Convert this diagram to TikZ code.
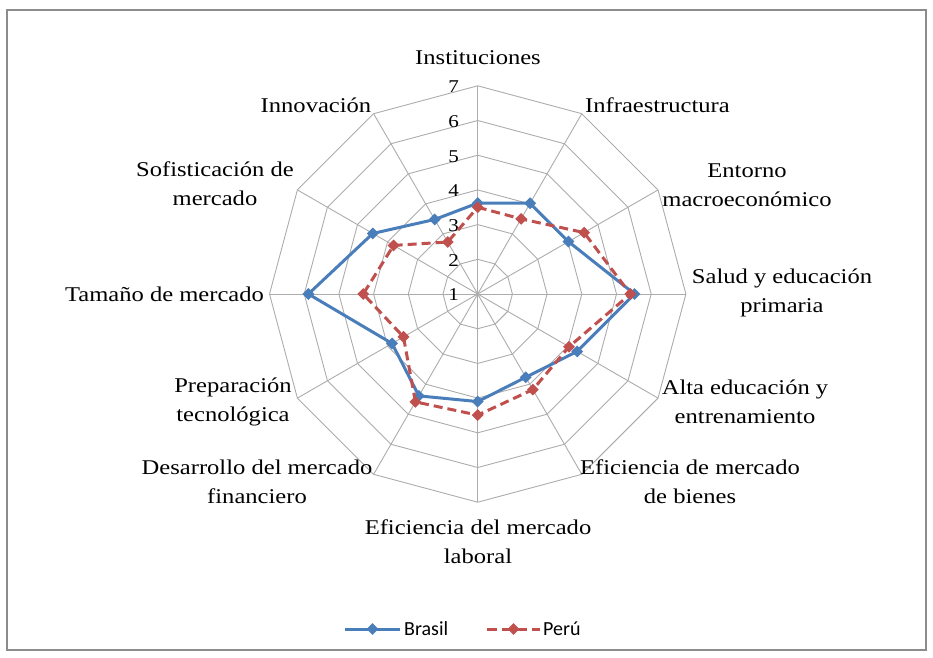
\documentclass[tikz,border=0pt]{standalone}
\usepackage{fontspec}
\setmainfont{Liberation Serif}[FakeStretch=1.17]
\newfontfamily\legfont{Carlito}
\usetikzlibrary{shapes.geometric}
\definecolor{brablue}{RGB}{74,126,187}
\definecolor{perured}{RGB}{192,80,77}
\definecolor{gridgray}{RGB}{172,172,172}
\definecolor{framegray}{RGB}{140,140,140}
\begin{document}
\begin{tikzpicture}[x=1pt,y=-1pt,
  lbl/.style={font=\fontsize{21}{29}\selectfont, align=center, inner sep=0pt},
  num/.style={font=\fontsize{18}{20}\selectfont, anchor=east, inner sep=0pt},
  gridline/.style={draw=gridgray, line width=0.9pt},
  brasil/.style={draw=brablue, line width=3pt, line join=round},
  peru/.style={draw=perured, line width=3pt, dash pattern=on 9pt off 5pt, line join=round},
  bmark/.style={diamond, fill=brablue, inner sep=0pt, minimum size=12pt},
  pmark/.style={diamond, fill=perured, inner sep=0pt, minimum size=12pt},
  legtext/.style={font=\legfont\fontsize{20}{22}\selectfont, anchor=west, inner sep=0pt}]
\useasboundingbox (0,0) rectangle (933,657);
\draw[draw=framegray, line width=1.2pt] (7,10) rectangle (926,650);
\begin{scope}[shift={(477.7,294)}]
  % rings
  \foreach \v [evaluate=\v as \r using (\v-1)*34.7] in {2,...,7}{
    \draw[gridline] (-90:\r) \foreach \k in {1,...,11}{ -- ({30*\k-90}:\r)} -- cycle;
  }
  % spokes
  \foreach \k in {0,...,11}
    \draw[gridline] (0,0) -- ({30*\k-90}:208.2);
  % scale numbers
  \foreach \v in {1,...,7}
    \node[num] (n\v) at (-18.7,{-(\v-1)*34.7+1}) {\v};
  % data
  \foreach \val [count=\i from 0] in {3.62,4.02,4.02,5.52,4.31,3.77,4.10,4.39,3.85,5.88,4.49,3.48}
    \coordinate (b\i) at ({30*\i-90}:{(\val-1)*34.7});
  \foreach \val [count=\i from 0] in {3.50,3.50,4.54,5.40,4.04,4.18,4.49,4.59,3.47,4.30,3.80,2.73}
    \coordinate (p\i) at ({30*\i-90}:{(\val-1)*34.7});
  \draw[brasil] (b0) -- (b1) -- (b2) -- (b3) -- (b4) -- (b5) -- (b6) -- (b7) -- (b8) -- (b9) -- (b10) -- (b11) -- cycle;
  \foreach \i in {0,...,11}
    \node[bmark] (bm\i) at (b\i) {};
  \draw[peru] (p0) -- (p1) -- (p2) -- (p3) -- (p4) -- (p5) -- (p6) -- (p7) -- (p8) -- (p9) -- (p10) -- (p11) -- cycle;
  \foreach \i in {0,...,11}
    \node[pmark] (pm\i) at (p\i) {};
\end{scope}
% axis labels
\node[lbl] (l0) at (478,58) {Instituciones};
\node[lbl] (l1) at (657.5,105) {Infraestructura};
\node[lbl] (l2) at (747,185) {Entorno\\macroeconómico};
\node[lbl] (l3) at (782,293) {Salud y educación\\primaria};
\node[lbl] (l4) at (745,402) {Alta educación y\\entrenamiento};
\node[lbl] (l5) at (690,482) {Eficiencia de mercado\\de bienes};
\node[lbl] (l6) at (478,542) {Eficiencia del mercado\\laboral};
\node[lbl] (l7) at (257,482) {Desarrollo del mercado\\financiero};
\node[lbl] (l8) at (233,402) {Preparación\\tecnológica};
\node[lbl] (l9) at (164.5,294) {Tamaño de mercado};
\node[lbl] (l10) at (215,184) {Sofisticación de\\mercado};
\node[lbl] (l11) at (316,105) {Innovación};
% legend
\coordinate (lb1) at (345,629);
\coordinate (lb2) at (400,629);
\draw[brasil] (lb1) -- (lb2);
\node[bmark] (lbm) at (372.5,629) {};
\node[legtext] (lbt) at (404,629) {Brasil};
\coordinate (lp1) at (487,629);
\coordinate (lp2) at (540,629);
\draw[peru, dash pattern=on 10pt off 5pt] (lp1) -- (lp2);
\node[pmark] (lpm) at (513.5,629) {};
\node[legtext] (lpt) at (543,629) {Perú};
\end{tikzpicture}
\end{document}
